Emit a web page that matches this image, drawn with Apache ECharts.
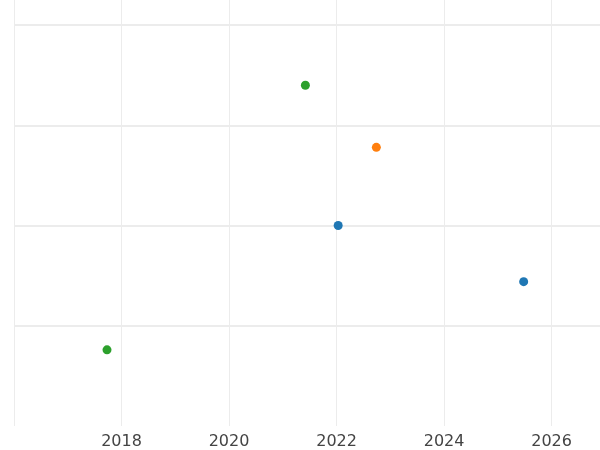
<!DOCTYPE html>
<html><head><meta charset="utf-8">
<script src="https://cdn.jsdelivr.net/npm/echarts@6/dist/echarts.min.js"></script>
<style>html,body{margin:0;padding:0;background:#fff}#c{width:600px;height:450px}</style>
</head><body><div id="c"></div>
<script>
const blueX=[2022.03,2025.48], blueY=[2.0,1.44];
const orangeX=[2022.74], orangeY=[2.78];
const greenX=[2021.42,2017.73], greenY=[3.40,0.76];
const xTicks=[2016,2018,2020,2022,2024,2026];
const zip=(a,b)=>a.map((v,i)=>[v,b[i]]);
const chart=echarts.init(document.getElementById('c'));
chart.setOption({
  animation:false,
  grid:{left:14,right:0,top:0,bottom:24},
  xAxis:{type:'value',min:2016,max:2026.9,interval:2,
    axisLine:{show:false},axisTick:{show:false},
    axisLabel:{color:'#444',fontSize:16,fontFamily:'DejaVu Sans',showMinLabel:false,showMaxLabel:false,margin:8,
      formatter:v=>xTicks.includes(v)?String(v):''},
    splitLine:{lineStyle:{color:'#ececec',width:1}}},
  yAxis:{type:'value',min:0,max:4.25,interval:1,
    axisLine:{show:false},axisTick:{show:false},axisLabel:{show:false},
    splitLine:{lineStyle:{color:['rgba(0,0,0,0)','#e6e6e6','#e6e6e6','#e6e6e6','#e6e6e6','rgba(0,0,0,0)'],width:1.5}}},
  series:[
    {type:'scatter',data:zip(blueX,blueY),symbolSize:9,itemStyle:{color:'#1f77b4',opacity:1}},
    {type:'scatter',data:zip(orangeX,orangeY),symbolSize:9,itemStyle:{color:'#ff7f0e',opacity:1}},
    {type:'scatter',data:zip(greenX,greenY),symbolSize:9,itemStyle:{color:'#2ca02c',opacity:1}}
  ]
});
</script></body></html>
